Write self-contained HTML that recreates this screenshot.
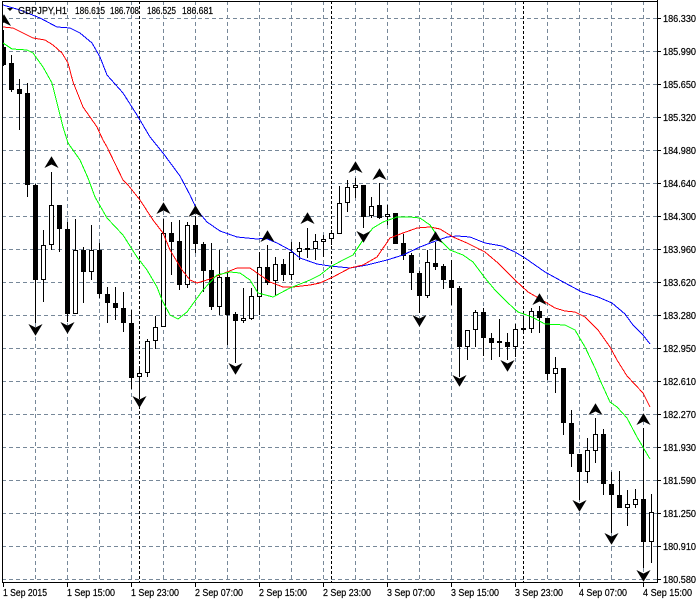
<!DOCTYPE html>
<html><head><meta charset="utf-8"><style>
html,body{margin:0;padding:0;background:#fff;}
svg{display:block;}
text{font-family:"Liberation Sans",Arial,sans-serif;font-size:10px;fill:#000;stroke:#000;stroke-width:0.2;}
</style></head><body>
<svg width="700" height="600" viewBox="0 0 700 600" xmlns="http://www.w3.org/2000/svg">
<defs>
<clipPath id="cp"><rect x="2" y="1" width="655" height="581"/></clipPath>
<path id="fu" d="M-6 5L0 -5L6 5L0 2Z" stroke="#000" stroke-width="0.8" stroke-linejoin="miter"/>
<path id="fd" d="M-6 -5L0 5L6 -5L0 -2Z" stroke="#000" stroke-width="0.8" stroke-linejoin="miter"/>
</defs>
<rect width="700" height="600" fill="#fff"/>
<g clip-path="url(#cp)">
<!-- grid -->
<g stroke="#778899" stroke-width="1" stroke-dasharray="4,3" shape-rendering="crispEdges">
<path d="M2 18.5H657M2 51.5H657M2 84.5H657M2 117.5H657M2 150.5H657M2 183.5H657M2 216.5H657M2 249.5H657M2 282.5H657M2 315.5H657M2 348.5H657M2 381.5H657M2 414.5H657M2 447.5H657M2 480.5H657M2 513.5H657M2 546.5H657M2 579.5H657"/>
<path d="M35.5 1V582M67.5 1V582M99.5 1V582M131.5 1V582M163.5 1V582M195.5 1V582M227.5 1V582M259.5 1V582M291.5 1V582M323.5 1V582M355.5 1V582M387.5 1V582M419.5 1V582M451.5 1V582M483.5 1V582M515.5 1V582M547.5 1V582M579.5 1V582M611.5 1V582M643.5 1V582"/>
</g>
<g stroke="#000" stroke-width="1" stroke-dasharray="3,2" shape-rendering="crispEdges">
<path d="M139.5 1V582M331.5 1V582M523.5 1V582"/>
</g>
<!-- candles -->
<g stroke="#000" stroke-width="1" shape-rendering="crispEdges">
<path d="M3.5 30V66M11.5 55V92M19.5 79V130M27.5 83V197M35.5 184V323M43.5 230V302M51.5 172V250M59.5 205V252M67.5 222V322M75.5 219V314M83.5 247V303M91.5 225V280M99.5 243V298M107.5 287V323M115.5 287V320M123.5 292V332M131.5 310V389M139.5 368V398M147.5 339V377M155.5 316V349M163.5 219V327M171.5 222V275M179.5 220V290M187.5 222V288M195.5 216V253M203.5 242V292M211.5 243V310M219.5 250V315M227.5 273V345M235.5 312V363M243.5 288V323M251.5 288V320M259.5 252V315M267.5 245V285M275.5 257V295M283.5 259V281M291.5 242V280M299.5 242V260M307.5 228V258M315.5 234V260M323.5 235V257M331.5 230V245M339.5 186V234M347.5 180V212M355.5 178V198M363.5 185V228M371.5 197V218M379.5 183V219M387.5 205V225M395.5 213V244M403.5 234V260M411.5 253V290M419.5 271V313M427.5 250V298M435.5 242V270M443.5 264V289M451.5 260V305M459.5 286V377M467.5 330V360M475.5 310V347M483.5 308V356M491.5 333V360M499.5 319V357M507.5 333V360M515.5 324V357M523.5 317V333M531.5 308V333M539.5 306V333M547.5 318V380M555.5 357V393M563.5 368V435M571.5 410V467M579.5 454V500M587.5 438V483M595.5 418V463M603.5 429V495M611.5 472V533M619.5 471V508M627.5 490V526M635.5 489V508M643.5 428V568M651.5 494V563"/>
</g>
<g fill="#000" shape-rendering="crispEdges">
<rect x="1" y="47" width="5" height="18"/>
<rect x="9" y="63" width="5" height="27"/>
<rect x="17" y="89" width="5" height="5"/>
<rect x="25" y="93" width="5" height="92"/>
<rect x="33" y="185" width="5" height="95"/>
<rect x="57" y="205" width="5" height="24"/>
<rect x="65" y="229" width="5" height="85"/>
<rect x="81" y="250" width="5" height="22"/>
<rect x="97" y="250" width="5" height="44"/>
<rect x="105" y="294" width="5" height="9"/>
<rect x="113" y="303" width="5" height="5"/>
<rect x="121" y="308" width="5" height="15"/>
<rect x="129" y="323" width="5" height="55"/>
<rect x="169" y="233" width="5" height="9"/>
<rect x="177" y="241" width="5" height="44"/>
<rect x="193" y="225" width="5" height="19"/>
<rect x="201" y="244" width="5" height="27"/>
<rect x="209" y="270" width="5" height="37"/>
<rect x="225" y="277" width="5" height="38"/>
<rect x="233" y="314" width="5" height="7"/>
<rect x="265" y="267" width="5" height="16"/>
<rect x="281" y="264" width="5" height="11"/>
<rect x="305" y="248" width="5" height="2"/>
<rect x="361" y="185" width="5" height="32"/>
<rect x="377" y="205" width="5" height="13"/>
<rect x="393" y="213" width="5" height="31"/>
<rect x="401" y="243" width="5" height="13"/>
<rect x="409" y="255" width="5" height="18"/>
<rect x="417" y="273" width="5" height="23"/>
<rect x="433" y="263" width="5" height="4"/>
<rect x="441" y="266" width="5" height="14"/>
<rect x="449" y="280" width="5" height="8"/>
<rect x="457" y="288" width="5" height="59"/>
<rect x="481" y="312" width="5" height="26"/>
<rect x="489" y="338" width="5" height="5"/>
<rect x="497" y="341" width="5" height="2"/>
<rect x="505" y="342" width="5" height="5"/>
<rect x="537" y="311" width="5" height="7"/>
<rect x="545" y="318" width="5" height="56"/>
<rect x="561" y="368" width="5" height="55"/>
<rect x="569" y="423" width="5" height="31"/>
<rect x="577" y="454" width="5" height="18"/>
<rect x="601" y="434" width="5" height="50"/>
<rect x="609" y="484" width="5" height="11"/>
<rect x="617" y="495" width="5" height="13"/>
<rect x="641" y="499" width="5" height="43"/>
</g>
<g fill="#fff" stroke="#000" stroke-width="1" shape-rendering="crispEdges">
<rect x="41.5" y="245.5" width="4" height="34"/>
<rect x="49.5" y="205.5" width="4" height="39"/>
<rect x="73.5" y="250.5" width="4" height="63"/>
<rect x="89.5" y="250.5" width="4" height="21"/>
<rect x="137.5" y="373.5" width="4" height="3"/>
<rect x="145.5" y="341.5" width="4" height="31"/>
<rect x="153.5" y="327.5" width="4" height="13"/>
<rect x="161.5" y="233.5" width="4" height="93"/>
<rect x="185.5" y="225.5" width="4" height="59"/>
<rect x="217.5" y="277.5" width="4" height="29"/>
<rect x="241.5" y="318.5" width="4" height="2"/>
<rect x="249.5" y="296.5" width="4" height="22"/>
<rect x="257.5" y="267.5" width="4" height="29"/>
<rect x="273.5" y="264.5" width="4" height="16"/>
<rect x="289.5" y="252.5" width="4" height="22"/>
<rect x="297.5" y="248.5" width="4" height="3"/>
<rect x="313.5" y="241.5" width="4" height="7"/>
<rect x="321.5" y="239.5" width="4" height="2"/>
<rect x="329.5" y="233.5" width="4" height="5"/>
<rect x="337.5" y="203.5" width="4" height="30"/>
<rect x="345.5" y="187.5" width="4" height="15"/>
<rect x="353.5" y="185.5" width="4" height="2"/>
<rect x="369.5" y="206.5" width="4" height="9"/>
<rect x="385.5" y="214.5" width="4" height="2"/>
<rect x="425.5" y="262.5" width="4" height="33"/>
<rect x="465.5" y="330.5" width="4" height="16"/>
<rect x="473.5" y="312.5" width="4" height="17"/>
<rect x="513.5" y="329.5" width="4" height="17"/>
<rect x="521.5" y="328.5" width="4" height="1"/>
<rect x="529.5" y="311.5" width="4" height="17"/>
<rect x="553.5" y="368.5" width="4" height="5"/>
<rect x="585.5" y="450.5" width="4" height="21"/>
<rect x="593.5" y="434.5" width="4" height="16"/>
<rect x="625.5" y="504.5" width="4" height="3"/>
<rect x="633.5" y="499.5" width="4" height="5"/>
<rect x="649.5" y="512.5" width="4" height="29"/>
</g>
<!-- moving averages -->
<g fill="none" stroke-width="1" shape-rendering="crispEdges">
<polyline stroke="#0000ff" points="3,5 20,10 40,18 57,27 70,28 80,33 92,43 100,57 107,75 123,93 137,115 150,137 163,153 180,176 190,195 197,210 207,222 220,231 237,237 257,239 265,238 277,243 290,250 300,258 317,264 330,266 350,268 367,265 387,260 403,255 420,247 433,242 447,237 457,236 470,237 485,243 502,246 515,252 525,258 545,272 565,283 582,292 598,297 612,303 625,314 633,325 643,335 650,344"/>
<polyline stroke="#ff0000" points="3,27 13,28 23,33 33,38 45,40 53,45 62,53 68,63 73,82 83,107 97,127 103,140 107,147 123,180 128,185 140,200 153,220 163,233 170,250 182,270 190,280 197,283 207,280 227,272 237,268 250,268 260,275 270,282 283,287 293,287 310,285 320,283 333,277 350,268 363,265 377,257 390,238 403,233 417,228 430,227 440,229 453,237 467,243 485,252 498,263 515,280 528,292 542,300 555,308 565,311 575,312 585,317 598,330 610,347 617,360 627,376 643,393 650,407"/>
<polyline stroke="#00ff00" points="3,43 12,49 27,50 33,53 43,67 52,83 58,107 63,127 68,143 80,160 88,178 95,197 107,218 123,235 137,257 147,270 157,287 162,300 170,315 178,319 187,312 203,290 217,275 230,272 240,273 250,280 258,293 273,297 290,288 310,280 320,275 330,267 343,260 353,255 363,240 373,228 383,222 397,217 410,217 420,218 430,225 440,240 450,250 463,255 473,262 485,278 495,290 508,303 518,312 532,317 545,324 565,325 575,330 585,347 595,368 600,380 610,402 617,407 627,418 637,437 650,459"/>
</g>
<!-- fractals -->
<g fill="#000">
<use href="#fu" x="4" y="20"/>
<use href="#fu" x="51.5" y="162"/>
<use href="#fu" x="163.5" y="208"/>
<use href="#fu" x="195.5" y="211"/>
<use href="#fu" x="267.5" y="236"/>
<use href="#fu" x="307.5" y="218"/>
<use href="#fu" x="355.5" y="167"/>
<use href="#fu" x="379.5" y="174"/>
<use href="#fu" x="435.5" y="237"/>
<use href="#fu" x="539.5" y="299"/>
<use href="#fu" x="595.5" y="409"/>
<use href="#fu" x="643.5" y="419"/>
<use href="#fd" x="35.5" y="330"/>
<use href="#fd" x="67.5" y="328"/>
<use href="#fd" x="139.5" y="402"/>
<use href="#fd" x="235.5" y="369"/>
<use href="#fd" x="363.5" y="237"/>
<use href="#fd" x="419.5" y="321"/>
<use href="#fd" x="459.5" y="381"/>
<use href="#fd" x="507.5" y="366"/>
<use href="#fd" x="579.5" y="506"/>
<use href="#fd" x="611.5" y="539"/>
<use href="#fd" x="643.5" y="576"/>
</g>
</g>
<!-- frame -->
<g stroke="#000" stroke-width="1" shape-rendering="crispEdges" fill="none">
<path d="M2.5 1V582.5M2 582.5H658M657.5 0V583M2 1.5H657"/>
<path d="M657 18.5H661M657 51.5H661M657 84.5H661M657 117.5H661M657 150.5H661M657 183.5H661M657 216.5H661M657 249.5H661M657 282.5H661M657 315.5H661M657 348.5H661M657 381.5H661M657 414.5H661M657 447.5H661M657 480.5H661M657 513.5H661M657 546.5H661M657 579.5H661"/>
<path d="M3.5 582V587M67.5 582V587M131.5 582V587M195.5 582V587M259.5 582V587M323.5 582V587M387.5 582V587M451.5 582V587M515.5 582V587M579.5 582V587M643.5 582V587"/>
</g>
<!-- header -->
<path d="M7 8H13L10 11Z" fill="#000"/>
<text x="18" y="14" textLength="49" lengthAdjust="spacingAndGlyphs">GBPJPY,H1</text>
<text x="75" y="14" textLength="30" lengthAdjust="spacingAndGlyphs">186.615</text>
<text x="110" y="14" textLength="29" lengthAdjust="spacingAndGlyphs">186.708</text>
<text x="147" y="14" textLength="29" lengthAdjust="spacingAndGlyphs">186.525</text>
<text x="182" y="14" textLength="31" lengthAdjust="spacingAndGlyphs">186.681</text>
<!-- price axis -->
<g>
<text x="663" y="22" textLength="33" lengthAdjust="spacingAndGlyphs">186.330</text>
<text x="663" y="55" textLength="33" lengthAdjust="spacingAndGlyphs">185.990</text>
<text x="663" y="88" textLength="33" lengthAdjust="spacingAndGlyphs">185.650</text>
<text x="663" y="121" textLength="33" lengthAdjust="spacingAndGlyphs">185.320</text>
<text x="663" y="154" textLength="33" lengthAdjust="spacingAndGlyphs">184.980</text>
<text x="663" y="187" textLength="33" lengthAdjust="spacingAndGlyphs">184.640</text>
<text x="663" y="220" textLength="33" lengthAdjust="spacingAndGlyphs">184.300</text>
<text x="663" y="253" textLength="33" lengthAdjust="spacingAndGlyphs">183.960</text>
<text x="663" y="286" textLength="33" lengthAdjust="spacingAndGlyphs">183.620</text>
<text x="663" y="319" textLength="33" lengthAdjust="spacingAndGlyphs">183.280</text>
<text x="663" y="352" textLength="33" lengthAdjust="spacingAndGlyphs">182.950</text>
<text x="663" y="385" textLength="33" lengthAdjust="spacingAndGlyphs">182.610</text>
<text x="663" y="418" textLength="33" lengthAdjust="spacingAndGlyphs">182.270</text>
<text x="663" y="451" textLength="33" lengthAdjust="spacingAndGlyphs">181.930</text>
<text x="663" y="484" textLength="33" lengthAdjust="spacingAndGlyphs">181.590</text>
<text x="663" y="517" textLength="33" lengthAdjust="spacingAndGlyphs">181.250</text>
<text x="663" y="550" textLength="33" lengthAdjust="spacingAndGlyphs">180.910</text>
<text x="663" y="583" textLength="33" lengthAdjust="spacingAndGlyphs">180.580</text>
</g>
<!-- time axis -->
<g>
<text x="3" y="596" textLength="44" lengthAdjust="spacingAndGlyphs">1 Sep 2015</text>
<text x="67" y="596" textLength="48" lengthAdjust="spacingAndGlyphs">1 Sep 15:00</text>
<text x="131" y="596" textLength="48" lengthAdjust="spacingAndGlyphs">1 Sep 23:00</text>
<text x="195" y="596" textLength="48" lengthAdjust="spacingAndGlyphs">2 Sep 07:00</text>
<text x="259" y="596" textLength="48" lengthAdjust="spacingAndGlyphs">2 Sep 15:00</text>
<text x="323" y="596" textLength="48" lengthAdjust="spacingAndGlyphs">2 Sep 23:00</text>
<text x="387" y="596" textLength="48" lengthAdjust="spacingAndGlyphs">3 Sep 07:00</text>
<text x="451" y="596" textLength="48" lengthAdjust="spacingAndGlyphs">3 Sep 15:00</text>
<text x="515" y="596" textLength="48" lengthAdjust="spacingAndGlyphs">3 Sep 23:00</text>
<text x="579" y="596" textLength="48" lengthAdjust="spacingAndGlyphs">4 Sep 07:00</text>
<text x="643" y="596" textLength="49" lengthAdjust="spacingAndGlyphs">4 Sep 15:00</text>
</g>
</svg>
</body></html>
